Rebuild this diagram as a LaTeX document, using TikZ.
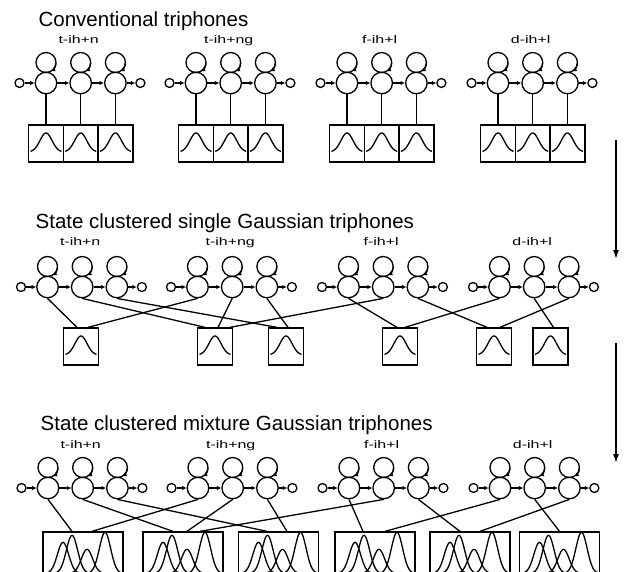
\documentclass[tikz,border=0pt]{standalone}
\usepackage{fontspec}
\setmainfont{Liberation Sans}
\usepackage{graphicx}
\usetikzlibrary{arrows.meta,calc}
\newcommand\onegauss[1]{\draw[shift={(#1.center)}] plot[domain=-15.5:15.5,samples=41,smooth] (\x,{8.5-19*exp(-(\x/8.5)*(\x/8.5))});}
\newcommand\mixgauss[1]{\begin{scope}[shift={(#1.north)}]
  \foreach \c/\h in {-20/31,-11/38,4/24,22/41}{
    \draw plot[domain=\c-18:\c+17,samples=45,smooth] (\x,{42-\h*exp(-((\x-\c)/8)*((\x-\c)/8))});
  }\end{scope}}
\begin{document}
\begin{tikzpicture}[x=1pt,y=-1pt,line width=1.3pt,
  state/.style={circle,draw,minimum size=21.5pt,inner sep=0pt},
  loopc/.style={circle,draw,minimum size=20pt,inner sep=0pt},
  term/.style={circle,draw,minimum size=9pt,inner sep=0pt},
  tr/.style={-{Latex[length=4.5pt,width=4.5pt]}},
  titletext/.style={font=\fontsize{20.5}{22}\selectfont,anchor=base west,inner sep=0pt},
  lab/.style={font=\fontsize{11}{12}\selectfont,xscale=1.45,inner sep=0pt,anchor=base},
  sbox/.style={draw,minimum width=35pt,minimum height=37pt,inner sep=0pt},
  mbox/.style={draw,minimum width=80pt,minimum height=53pt,inner sep=0pt},
  bigarrow/.style={line width=1.4pt,-{Latex[length=9pt,width=6pt]}}]
\useasboundingbox (0,0) rectangle (629,571);
\clip (0,0) rectangle (629,571);

% titles
\node[titletext] (t1) at (38,26) {Conventional triphones};
\node[titletext] (t2) at (35,228) {State clustered single Gaussian triphones};
\node[titletext] (t3) at (40,430) {State clustered mixture Gaussian triphones};

% HMMs
\foreach \rw/\ry/\dx/\ly in {1/83/-1/43,2/287/0.5/245,3/488/1/448}{
  \foreach \gi/\gx/\txt in {1/47/t-ih+n,2/197/t-ih+ng,3/348/f-ih+l,4/499/d-ih+l}{
    \foreach \si in {1,2,3}{
      \node[state] (r\rw g\gi s\si) at ({\gx+\dx+34.7*(\si-1)},\ry) {};
      \node[loopc] (r\rw g\gi l\si) at ({\gx+\dx+34.7*(\si-1)},{\ry-20.5}) {};
      \draw[tr] ([shift={(-5:10pt)}]r\rw g\gi l\si.center) arc[start angle=-5,end angle=-62,radius=10pt];
    }
    \node[term] (r\rw g\gi en) at ({\gx+\dx-26.5},\ry) {};
    \node[term] (r\rw g\gi ex) at ({\gx+\dx+69.4+25},\ry) {};
    \draw[tr] (r\rw g\gi en) -- (r\rw g\gi s1);
    \draw[tr] (r\rw g\gi s1) -- (r\rw g\gi s2);
    \draw[tr] (r\rw g\gi s2) -- (r\rw g\gi s3);
    \draw[tr] (r\rw g\gi s3) -- (r\rw g\gi ex);
    \node[lab] (lab\rw\gi) at ({\gx+\dx+32.7},\ly) {\txt};
  }
}

% row 1 boxes
\foreach \gi in {1,2,3,4}{
  \foreach \si in {1,2,3}{
    \node[sbox] (r1g\gi b\si) at (r1g\gi s\si |- 0,143.5) {};
    \onegauss{r1g\gi b\si}
    \draw (r1g\gi s\si) -- (r1g\gi b\si);
  }
}

% row 2 boxes
\foreach \b/\bx in {1/81,2/215,3/286,4/400,5/494,6/550.5}{
  \node[sbox] (r2B\b) at (\bx,346.5) {};
  \onegauss{r2B\b}
}
\foreach \s/\b/\o in {g1s1/1/-4,g2s1/1/7,g1s2/2/-10,g2s2/2/3,g3s2/2/15,g1s3/3/-9,g2s3/3/2,g3s1/4/-3,g4s1/4/5,g3s3/5/-7,g4s3/5/6,g4s2/6/3}{
  \draw (r2\s.south) -- ([xshift=\o pt]r2B\b.north);
}

% row 3 boxes
\foreach \b/\bx in {1/83,2/183,3/278.5,4/375,5/470,6/559.5}{
  \node[mbox] (r3B\b) at (\bx,558.5) {};
  \mixgauss{r3B\b}
}
\foreach \s/\b/\o in {g1s1/1/-11,g2s1/1/9,g1s2/2/-10,g2s2/2/4,g3s2/2/17,g1s3/3/-11.5,g2s3/3/8.5,g3s1/4/-12,g4s1/4/10,g3s3/5/-10,g4s3/5/10,g4s2/6/0}{
  \draw (r3\s.south) -- ([xshift=\o pt]r3B\b.north);
}

% arrows at the right
\coordinate (a1s) at (616,140);
\coordinate (a1e) at (616,259);
\coordinate (a2s) at (616,343);
\coordinate (a2e) at (616,463);
\draw[bigarrow] (a1s) -- (a1e);
\draw[bigarrow] (a2s) -- (a2e);
\end{tikzpicture}
\end{document}
